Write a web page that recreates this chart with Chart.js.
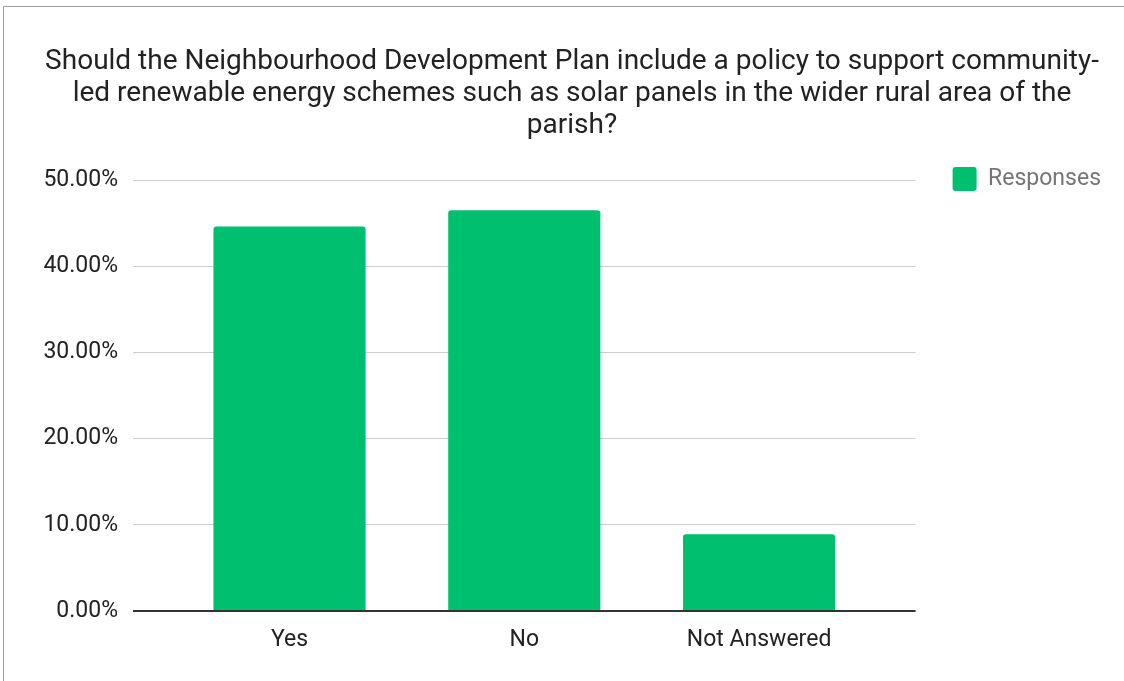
<!DOCTYPE html>
<html>
<head>
<meta charset="utf-8">
<title>Renewable energy schemes</title>
<script src="https://cdn.jsdelivr.net/npm/chart.js@4.4.1/dist/chart.umd.min.js"></script>
<style>
  html, body { margin: 0; padding: 0; background: #fff; overflow: hidden; }
  .frame {
    position: absolute; left: 3px; top: 6px; width: 1300px; height: 800px;
    border-top: 1px solid #9e9e9e; border-left: 1px solid #9e9e9e;
  }
  .chart-box { position: absolute; left: 0; top: 0; width: 1124px; height: 681px; }
</style>
</head>
<body>
<div class="frame"></div>
<div class="chart-box"><canvas id="survey-chart"></canvas></div>
<script>
// Survey answers
const categories = ['Yes', 'No', 'Not Answered'];
const responses = [44.6, 46.5, 8.9];
const yTicks = [0, 10, 20, 30, 40, 50];
const titleLines = [
  'Should the Neighbourhood Development Plan include a policy to support community-',
  'led renewable energy schemes such as solar panels in the wider rural area of the',
  'parish?'
];

const GREEN = '#00bf6f';
const FONT = 'Roboto, "Noto Sans", sans-serif';

// lift the legend so its entry sits level with the top gridline
const legendLift = {
  id: 'legendLift',
  afterLayout(chart) {
    const lg = chart.legend;
    const h = lg.bottom - lg.top;
    lg.top = chart.chartArea.top - 13 - lg.options.labels.padding;
    lg.bottom = lg.top + h;
  }
};

const ctx = document.getElementById('survey-chart').getContext('2d');
new Chart(ctx, {
  type: 'bar',
  data: {
    datasets: [{
      label: 'Responses',
      data: responses.map((v, i) => ({ x: i, y: v })),
      backgroundColor: GREEN,
      borderWidth: 0,
      borderRadius: { topLeft: 3, topRight: 3 },
      borderSkipped: 'start',
      categoryPercentage: 1,
      barPercentage: 0.648
    }]
  },
  options: {
    responsive: true,
    maintainAspectRatio: false,
    animation: false,
    layout: { padding: { left: 33, right: 13, top: 0, bottom: 0 } },
    plugins: {
      title: {
        display: true,
        text: titleLines,
        color: '#222',
        font: { family: FONT, size: 28, weight: 'normal', lineHeight: '32px' },
        padding: { top: 46, bottom: 38 }
      },
      legend: {
        position: 'right',
        align: 'start',
        fullSize: false,
        labels: {
          color: '#757575',
          font: { family: FONT, size: 23 },
          boxWidth: 24,
          boxHeight: 24,
          useBorderRadius: true,
          borderRadius: 3,
          padding: 37
        }
      },
      tooltip: { enabled: false }
    },
    scales: {
      x: {
        type: 'linear',
        offset: false,
        min: -2 / 3,
        max: categories.length - 1 + 2 / 3,
        grid: { display: false, offset: false },
        border: { display: false },
        afterBuildTicks: scale => {
          scale.ticks = categories.map((_, i) => ({ value: i }));
        },
        afterFit: scale => { scale.height = 70; },
        ticks: {
          autoSkip: false,
          maxRotation: 0,
          padding: 7,
          color: '#222',
          font: { family: FONT, size: 23 },
          callback: v => categories[v]
        }
      },
      y: {
        min: 0,
        max: 50,
        grid: {
          drawTicks: false,
          color: c => (c.tick && c.tick.value === 0 ? '#333' : '#cccccc'),
          lineWidth: c => (c.tick && c.tick.value === 0 ? 2 : 1)
        },
        border: { display: false },
        afterBuildTicks: scale => {
          scale.ticks = yTicks.map(v => ({ value: v }));
        },
        afterFit: scale => { scale.width = 100; },
        ticks: {
          padding: 15,
          color: '#222',
          font: { family: FONT, size: 23 },
          callback: v => v.toFixed(2) + '%'
        }
      }
    }
  },
  plugins: [legendLift]
});
</script>
</body>
</html>
